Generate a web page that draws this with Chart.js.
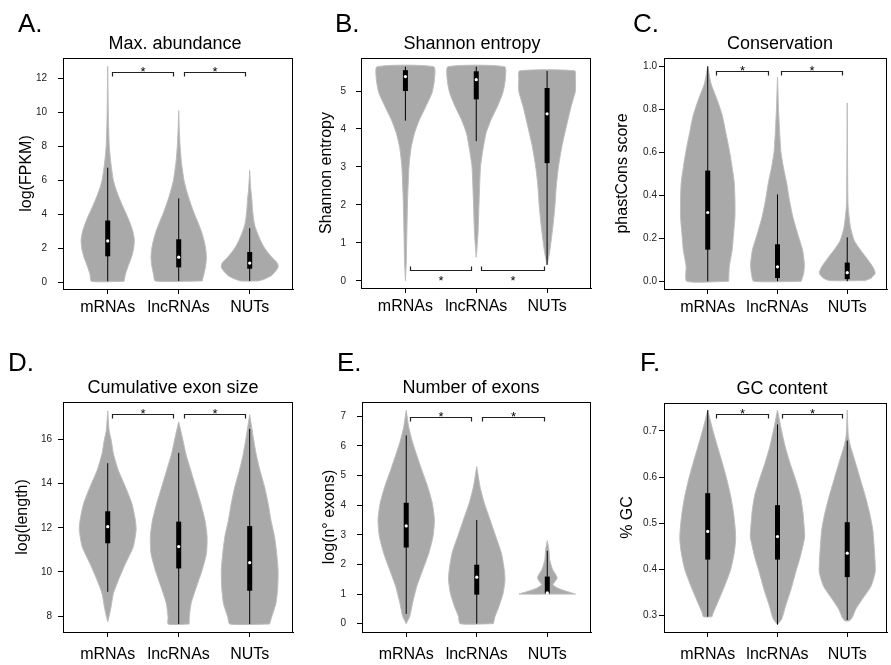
<!DOCTYPE html>
<html>
<head>
<meta charset="utf-8">
<title>Violin plots</title>
<script src="https://cdn.jsdelivr.net/npm/chart.js@4.4.1/dist/chart.umd.min.js"></script>
<style>
  body { margin: 0; background: #fff; width: 891px; height: 665px; overflow: hidden; position: relative; }
  canvas { position: absolute; }
</style>
</head>
<body>
<canvas id="panelA"></canvas>
<canvas id="panelB"></canvas>
<canvas id="panelC"></canvas>
<canvas id="panelD"></canvas>
<canvas id="panelE"></canvas>
<canvas id="panelF"></canvas>
<script>
const categories = ['mRNAs', 'lncRNAs', 'NUTs'];

// violin profiles are [value, half width]; boxes are [whisker low, q1, median, q3, whisker high]

// A. Max. abundance
const abundanceTicks = [0, 2, 4, 6, 8, 10, 12];
const abundanceMRNA = [[0.08, 0.23], [0.5, 0.25], [1, 0.29], [1.5, 0.335], [2, 0.365], [2.5, 0.375], [3, 0.355], [3.5, 0.315], [4, 0.265], [4.5, 0.21], [5, 0.16], [5.5, 0.115], [6, 0.08], [7, 0.045], [8, 0.022], [9.5, 0.01], [11, 0.005], [12.7, 0]];
const abundanceLncRNA = [[0.1, 0.33], [0.5, 0.355], [1, 0.38], [1.5, 0.39], [2, 0.38], [2.5, 0.355], [3, 0.32], [3.5, 0.275], [4, 0.225], [4.5, 0.18], [5, 0.14], [5.5, 0.105], [6, 0.075], [7, 0.04], [8, 0.02], [9, 0.008], [10.1, 0]];
const abundanceNUT = [[0.1, 0.12], [0.2, 0.2], [0.4, 0.3], [0.65, 0.36], [0.9, 0.4], [1.1, 0.395], [1.3, 0.36], [1.5, 0.31], [1.8, 0.25], [2.1, 0.2], [2.5, 0.15], [2.9, 0.11], [3.3, 0.075], [3.7, 0.056], [4.3, 0.04], [4.9, 0.03], [5.5, 0.015], [6.6, 0]];
const abundanceBoxes = [[0.08, 1.55, 2.45, 3.65, 6.75], [0.1, 0.9, 1.5, 2.55, 4.95], [0.1, 0.82, 1.15, 1.8, 3.2]];
const abundanceSig = [[1.06, 1.92], [2.07, 2.93]];

// B. Shannon entropy
const entropyTicks = [0, 1, 2, 3, 4, 5];
const entropyMRNA = [[0, 0], [0.5, 0.012], [1.25, 0.02], [2.1, 0.03], [3, 0.05], [3.5, 0.08], [3.9, 0.13], [4.25, 0.2], [4.6, 0.29], [4.95, 0.375], [5.3, 0.41], [5.64, 0.4]];
const entropyLncRNA = [[0.62, 0], [1.25, 0.025], [2.1, 0.04], [3, 0.06], [3.45, 0.094], [3.9, 0.14], [4.25, 0.21], [4.6, 0.3], [4.95, 0.375], [5.3, 0.41], [5.64, 0.4]];
const entropyNUT = [[0.42, 0], [0.75, 0.035], [1.4, 0.08], [1.95, 0.11], [2.5, 0.13], [3, 0.16], [3.55, 0.21], [4.05, 0.27], [4.6, 0.34], [5.0, 0.4], [5.3, 0.4], [5.53, 0.39]];
const entropyBoxes = [[4.22, 5.0, 5.38, 5.55, 5.64], [3.68, 4.78, 5.3, 5.52, 5.64], [0.42, 3.1, 4.4, 5.08, 5.53]];
const entropySig = [[1.06, 1.92], [2.07, 2.96]];

// C. Conservation
const conservationTicks = [0, 0.2, 0.4, 0.6, 0.8, 1.0];
const conservationMRNA = [[0, 0.3], [0.07, 0.31], [0.145, 0.35], [0.22, 0.37], [0.3, 0.39], [0.38, 0.39], [0.46, 0.38], [0.53, 0.35], [0.61, 0.31], [0.69, 0.26], [0.77, 0.21], [0.84, 0.14], [0.92, 0.047], [1.0, 0]];
const conservationLncRNA = [[0, 0.34], [0.036, 0.375], [0.08, 0.385], [0.145, 0.36], [0.22, 0.29], [0.3, 0.22], [0.38, 0.17], [0.46, 0.13], [0.53, 0.085], [0.6, 0.05], [0.7, 0.03], [0.8, 0.015], [0.95, 0]];
const conservationNUT = [[0.003, 0.25], [0.014, 0.34], [0.037, 0.4], [0.065, 0.37], [0.107, 0.28], [0.145, 0.19], [0.19, 0.1], [0.25, 0.047], [0.35, 0.012], [0.5, 0.006], [0.83, 0]];
const conservationBoxes = [[0, 0.147, 0.32, 0.515, 1.0], [0, 0.015, 0.067, 0.172, 0.404], [0, 0.01, 0.04, 0.087, 0.204]];
const conservationSig = [[1.12, 1.87], [2.05, 2.92]];

// D. Cumulative exon size
const exonSizeTicks = [8, 10, 12, 14, 16];
const exonSizeMRNA = [[7.74, 0], [8.0, 0.02], [8.42, 0.047], [9.03, 0.08], [9.63, 0.15], [10.38, 0.25], [11.14, 0.36], [11.9, 0.4], [12.34, 0.39], [13.1, 0.34], [13.85, 0.25], [14.6, 0.15], [15.36, 0.08], [15.96, 0.05], [16.4, 0.02], [17.3, 0]];
const exonSizeLncRNA = [[7.64, 0.147], [7.97, 0.15], [8.58, 0.175], [9.33, 0.25], [10.08, 0.33], [10.83, 0.39], [11.59, 0.4], [12.34, 0.37], [13.1, 0.31], [13.85, 0.24], [14.6, 0.17], [15.36, 0.1], [15.96, 0.06], [16.8, 0]];
const exonSizeNUT = [[7.64, 0.28], [7.97, 0.31], [8.58, 0.37], [9.33, 0.395], [10.08, 0.4], [10.84, 0.38], [11.6, 0.35], [12.34, 0.3], [13.1, 0.26], [13.85, 0.21], [14.6, 0.145], [15.36, 0.09], [16.1, 0.05], [17.12, 0]];
const exonSizeBoxes = [[9.1, 11.3, 12.05, 12.75, 14.93], [7.64, 10.16, 11.15, 12.28, 15.4], [7.64, 9.15, 10.42, 12.08, 16.48]];
const exonSizeSig = [[1.06, 1.92], [2.07, 2.93]];

// E. Number of exons
const exonCountTicks = [0, 1, 2, 3, 4, 5, 6, 7];
const exonCountMRNA = [[0, 0], [0.25, 0.05], [0.7, 0.09], [1.26, 0.15], [1.82, 0.235], [2.38, 0.32], [2.94, 0.38], [3.5, 0.4], [4.06, 0.37], [4.62, 0.305], [5.19, 0.22], [5.75, 0.14], [6.2, 0.08], [6.64, 0.035], [7.2, 0]];
const exonCountLncRNA = [[0, 0.235], [0.25, 0.26], [0.58, 0.315], [1.04, 0.375], [1.48, 0.4], [1.82, 0.39], [2.38, 0.35], [2.94, 0.27], [3.5, 0.19], [4.06, 0.108], [4.62, 0.047], [5.3, 0]];
const exonCountNUT = [[1.0, 0.4], [1.05, 0.33], [1.12, 0.24], [1.2, 0.15], [1.31, 0.08], [1.42, 0.11], [1.54, 0.14], [1.66, 0.12], [1.82, 0.077], [2.15, 0.035], [2.49, 0.023], [2.8, 0]];
const exonCountBoxes = [[0.33, 2.57, 3.3, 4.08, 6.35], [0, 0.98, 1.57, 1.99, 3.5], [1.0, 1.02, 1.04, 1.59, 2.46]];
const exonCountSig = [[1.06, 1.92], [2.07, 2.96]];

// F. GC content
const gcTicks = [0.3, 0.4, 0.5, 0.6, 0.7];
const gcMRNA = [[0.297, 0.06], [0.306, 0.08], [0.327, 0.14], [0.363, 0.24], [0.4, 0.33], [0.436, 0.38], [0.464, 0.4], [0.486, 0.395], [0.522, 0.37], [0.558, 0.33], [0.594, 0.275], [0.63, 0.21], [0.666, 0.14], [0.703, 0.07], [0.745, 0]];
const gcLncRNA = [[0.28, 0], [0.292, 0.06], [0.32, 0.115], [0.357, 0.195], [0.393, 0.26], [0.429, 0.33], [0.47, 0.39], [0.486, 0.385], [0.522, 0.366], [0.558, 0.33], [0.594, 0.26], [0.63, 0.18], [0.666, 0.11], [0.703, 0.055], [0.745, 0]];
const gcNUT = [[0.288, 0.03], [0.295, 0.07], [0.313, 0.12], [0.334, 0.21], [0.363, 0.34], [0.393, 0.4], [0.414, 0.4], [0.45, 0.385], [0.486, 0.366], [0.522, 0.32], [0.558, 0.26], [0.594, 0.19], [0.63, 0.12], [0.666, 0.047], [0.69, 0.015], [0.745, 0]];
const gcBoxes = [[0.297, 0.421, 0.482, 0.565, 0.745], [0.28, 0.421, 0.471, 0.539, 0.714], [0.29, 0.383, 0.435, 0.502, 0.679]];
const gcSig = [[1.12, 1.87], [2.06, 2.92]];

Chart.defaults.font.family = '"Liberation Sans", Arial, sans-serif';
Chart.defaults.color = '#000';

const FONT = '"Liberation Sans", Arial, sans-serif';
const rows = [
  { top: 0, height: 320, labelPad: 4 },
  { top: 320, height: 345, labelPad: 8 }
];

// page layout of every panel: plot box [left, top, right, bottom]
const panels = [
  { id: 'panelA', letter: 'A.', title: 'Max. abundance', yLabel: 'log(FPKM)', row: 0,
    violins: [abundanceMRNA, abundanceLncRNA, abundanceNUT], boxes: abundanceBoxes, yTicks: abundanceTicks, decimals: 0,
    sig: abundanceSig, sigLevel: 12.35, sigBelow: false,
    area: [63, 58, 293, 289], xRange: [0.37, 3.61], yRange: [-0.37, 13.19],
    letterDx: -45, letterDy: -26, titleDx: 112, labelDx: -36, tickPad: 11 },
  { id: 'panelB', letter: 'B.', title: 'Shannon entropy', yLabel: 'Shannon entropy', row: 0,
    violins: [entropyMRNA, entropyLncRNA, entropyNUT], boxes: entropyBoxes, yTicks: entropyTicks, decimals: 0,
    sig: entropySig, sigLevel: 0.29, sigBelow: true,
    area: [361, 58, 591, 288], xRange: [0.373, 3.62], yRange: [-0.19, 5.87],
    letterDx: -26, letterDy: -26, titleDx: 111, labelDx: -34, tickPad: 10 },
  { id: 'panelC', letter: 'C.', title: 'Conservation', yLabel: 'phastCons score', row: 0,
    violins: [conservationMRNA, conservationLncRNA, conservationNUT], boxes: conservationBoxes, yTicks: conservationTicks, decimals: 1,
    sig: conservationSig, sigLevel: 0.977, sigBelow: false,
    area: [664, 58, 890, 289], xRange: [0.373, 3.57], yRange: [-0.036, 1.039],
    letterDx: -31, letterDy: -26, titleDx: 116, labelDx: -41, tickPad: 2 },
  { id: 'panelD', letter: 'D.', title: 'Cumulative exon size', yLabel: 'log(length)', row: 1,
    violins: [exonSizeMRNA, exonSizeLncRNA, exonSizeNUT], boxes: exonSizeBoxes, yTicks: exonSizeTicks, decimals: 0,
    sig: exonSizeSig, sigLevel: 17.14, sigBelow: false,
    area: [63, 402, 293, 632], xRange: [0.37, 3.61], yRange: [7.28, 17.7],
    letterDx: -55, letterDy: -31, titleDx: 110, labelDx: -40, tickPad: 6 },
  { id: 'panelE', letter: 'E.', title: 'Number of exons', yLabel: 'log(n\u00b0 exons)', row: 1,
    violins: [exonCountMRNA, exonCountLncRNA, exonCountNUT], boxes: exonCountBoxes, yTicks: exonCountTicks, decimals: 0,
    sig: exonCountSig, sigLevel: 6.97, sigBelow: false,
    area: [362, 402, 591, 632], xRange: [0.373, 3.62], yRange: [-0.28, 7.48],
    letterDx: -25, letterDy: -31, titleDx: 109, labelDx: -32, tickPad: 11 },
  { id: 'panelF', letter: 'F.', title: 'GC content', yLabel: '% GC', row: 1,
    violins: [gcMRNA, gcLncRNA, gcNUT], boxes: gcBoxes, yTicks: gcTicks, decimals: 1,
    sig: gcSig, sigLevel: 0.737, sigBelow: false,
    area: [664, 403, 890, 632], xRange: [0.373, 3.57], yRange: [0.264, 0.7605],
    letterDx: -24, letterDy: -32, titleDx: 118, labelDx: -36, tickPad: 2 }
];

// outline of one violin: up the right side, down the left side
function violinOutline(profile, center) {
  const right = profile.map(([v, w]) => ({ x: center + w, y: v }));
  const left = profile.slice().reverse().map(([v, w]) => ({ x: center - w, y: v }));
  return right.concat(left, [right[0]]);
}

function buildDatasets(p) {
  const sets = [];
  p.violins.forEach((profile, i) => {
    const c = i + 1;
    const [lo, q1, med, q3, hi] = p.boxes[i];
    sets.push({ data: violinOutline(profile, c), fill: 'shape', backgroundColor: '#a9a9a9',
      borderColor: '#bcbcbc', borderWidth: 1, pointRadius: 0, tension: 0.2, order: 3 });
    sets.push({ data: [{ x: c, y: lo }, { x: c, y: hi }], fill: false, borderColor: '#000',
      borderWidth: 1, pointRadius: 0, order: 2 });
    sets.push({ data: [{ x: c, y: q1 }, { x: c, y: q3 }], fill: false, borderColor: '#000',
      borderWidth: 5, borderCapStyle: 'butt', pointRadius: 0, order: 1 });
    sets.push({ data: [{ x: c, y: med }], showLine: false, fill: false, borderColor: '#fff',
      pointRadius: 1.6, pointBackgroundColor: '#fff', pointBorderWidth: 0, order: 0 });
  });
  return sets;
}

// box, letter, title, axis label and significance brackets
function makeDecor(p) {
  return {
    id: 'panelDecor',
    afterDraw(chart) {
      const { ctx, chartArea: a, scales: { x, y } } = chart;
      ctx.save();
      ctx.strokeStyle = '#000';
      ctx.lineWidth = 1;
      ctx.strokeRect(Math.round(a.left) + 0.5, Math.round(a.top) + 0.5,
        Math.round(a.right - a.left) - 1, Math.round(a.bottom - a.top));

      ctx.fillStyle = '#000';
      ctx.textBaseline = 'alphabetic';
      ctx.textAlign = 'left';
      ctx.font = '26px ' + FONT;
      ctx.fillText(p.letter, a.left + p.letterDx, a.top + p.letterDy);

      ctx.textAlign = 'center';
      ctx.font = '18px ' + FONT;
      ctx.fillText(p.title, a.left + p.titleDx, a.top - 9);

      ctx.save();
      ctx.translate(a.left + p.labelDx, (a.top + a.bottom) / 2);
      ctx.rotate(-Math.PI / 2);
      ctx.font = '16px ' + FONT;
      ctx.textBaseline = 'middle';
      ctx.fillText(p.yLabel, 0, 0);
      ctx.restore();

      const yp = Math.round(y.getPixelForValue(p.sigLevel)) + 0.5;
      const dir = p.sigBelow ? -1 : 1;
      ctx.strokeStyle = '#222';
      ctx.lineWidth = 1.2;
      ctx.font = '13px ' + FONT;
      p.sig.forEach(([x1, x2]) => {
        const p1 = Math.round(x.getPixelForValue(x1)) + 0.5;
        const p2 = Math.round(x.getPixelForValue(x2)) + 0.5;
        ctx.beginPath();
        ctx.moveTo(p1, yp + 4 * dir);
        ctx.lineTo(p1, yp);
        ctx.lineTo(p2, yp);
        ctx.lineTo(p2, yp + 4 * dir);
        ctx.stroke();
        ctx.fillText('*', (p1 + p2) / 2, p.sigBelow ? yp + 14.5 : yp + 3.5);
      });
      ctx.restore();
    }
  };
}

panels.forEach((p) => {
  const row = rows[p.row];
  const canvas = document.getElementById(p.id);
  const left = p.area[0] - 63;
  const width = Math.min(p.area[2] + 5, 891) - left;
  const plotWidth = p.area[2] - p.area[0];
  canvas.width = width;
  canvas.height = row.height;
  canvas.style.left = left + 'px';
  canvas.style.top = row.top + 'px';
  const xAxisHeight = row.top + row.height - p.area[3];

  new Chart(canvas, {
    type: 'line',
    data: { datasets: buildDatasets(p) },
    plugins: [makeDecor(p)],
    options: {
      responsive: false,
      animation: false,
      devicePixelRatio: 1,
      layout: { padding: { top: p.area[1] - row.top, right: width - 63 - plotWidth, left: 0, bottom: 0 } },
      plugins: { legend: { display: false }, tooltip: { enabled: false } },
      scales: {
        x: {
          type: 'linear',
          min: p.xRange[0],
          max: p.xRange[1],
          afterBuildTicks: (s) => { s.ticks = categories.map((c, i) => ({ value: i + 1 })); },
          afterFit: (s) => { s.height = xAxisHeight; },
          grid: { drawOnChartArea: false, color: '#000', tickLength: 5 },
          border: { color: '#000' },
          ticks: {
            callback: (v) => categories[Math.round(v) - 1],
            font: { size: 16 },
            color: '#000',
            padding: row.labelPad,
            maxRotation: 0,
            autoSkip: false
          }
        },
        y: {
          type: 'linear',
          min: p.yRange[0],
          max: p.yRange[1],
          afterBuildTicks: (s) => { s.ticks = p.yTicks.map((v) => ({ value: v })); },
          afterFit: (s) => { s.width = 63; },
          grid: { drawOnChartArea: false, color: '#000', tickLength: 5 },
          border: { color: '#000' },
          ticks: {
            callback: (v) => v.toFixed(p.decimals),
            font: { size: 10 },
            color: '#222',
            padding: p.tickPad,
            autoSkip: false
          }
        }
      }
    }
  });
});
</script>
</body>
</html>
